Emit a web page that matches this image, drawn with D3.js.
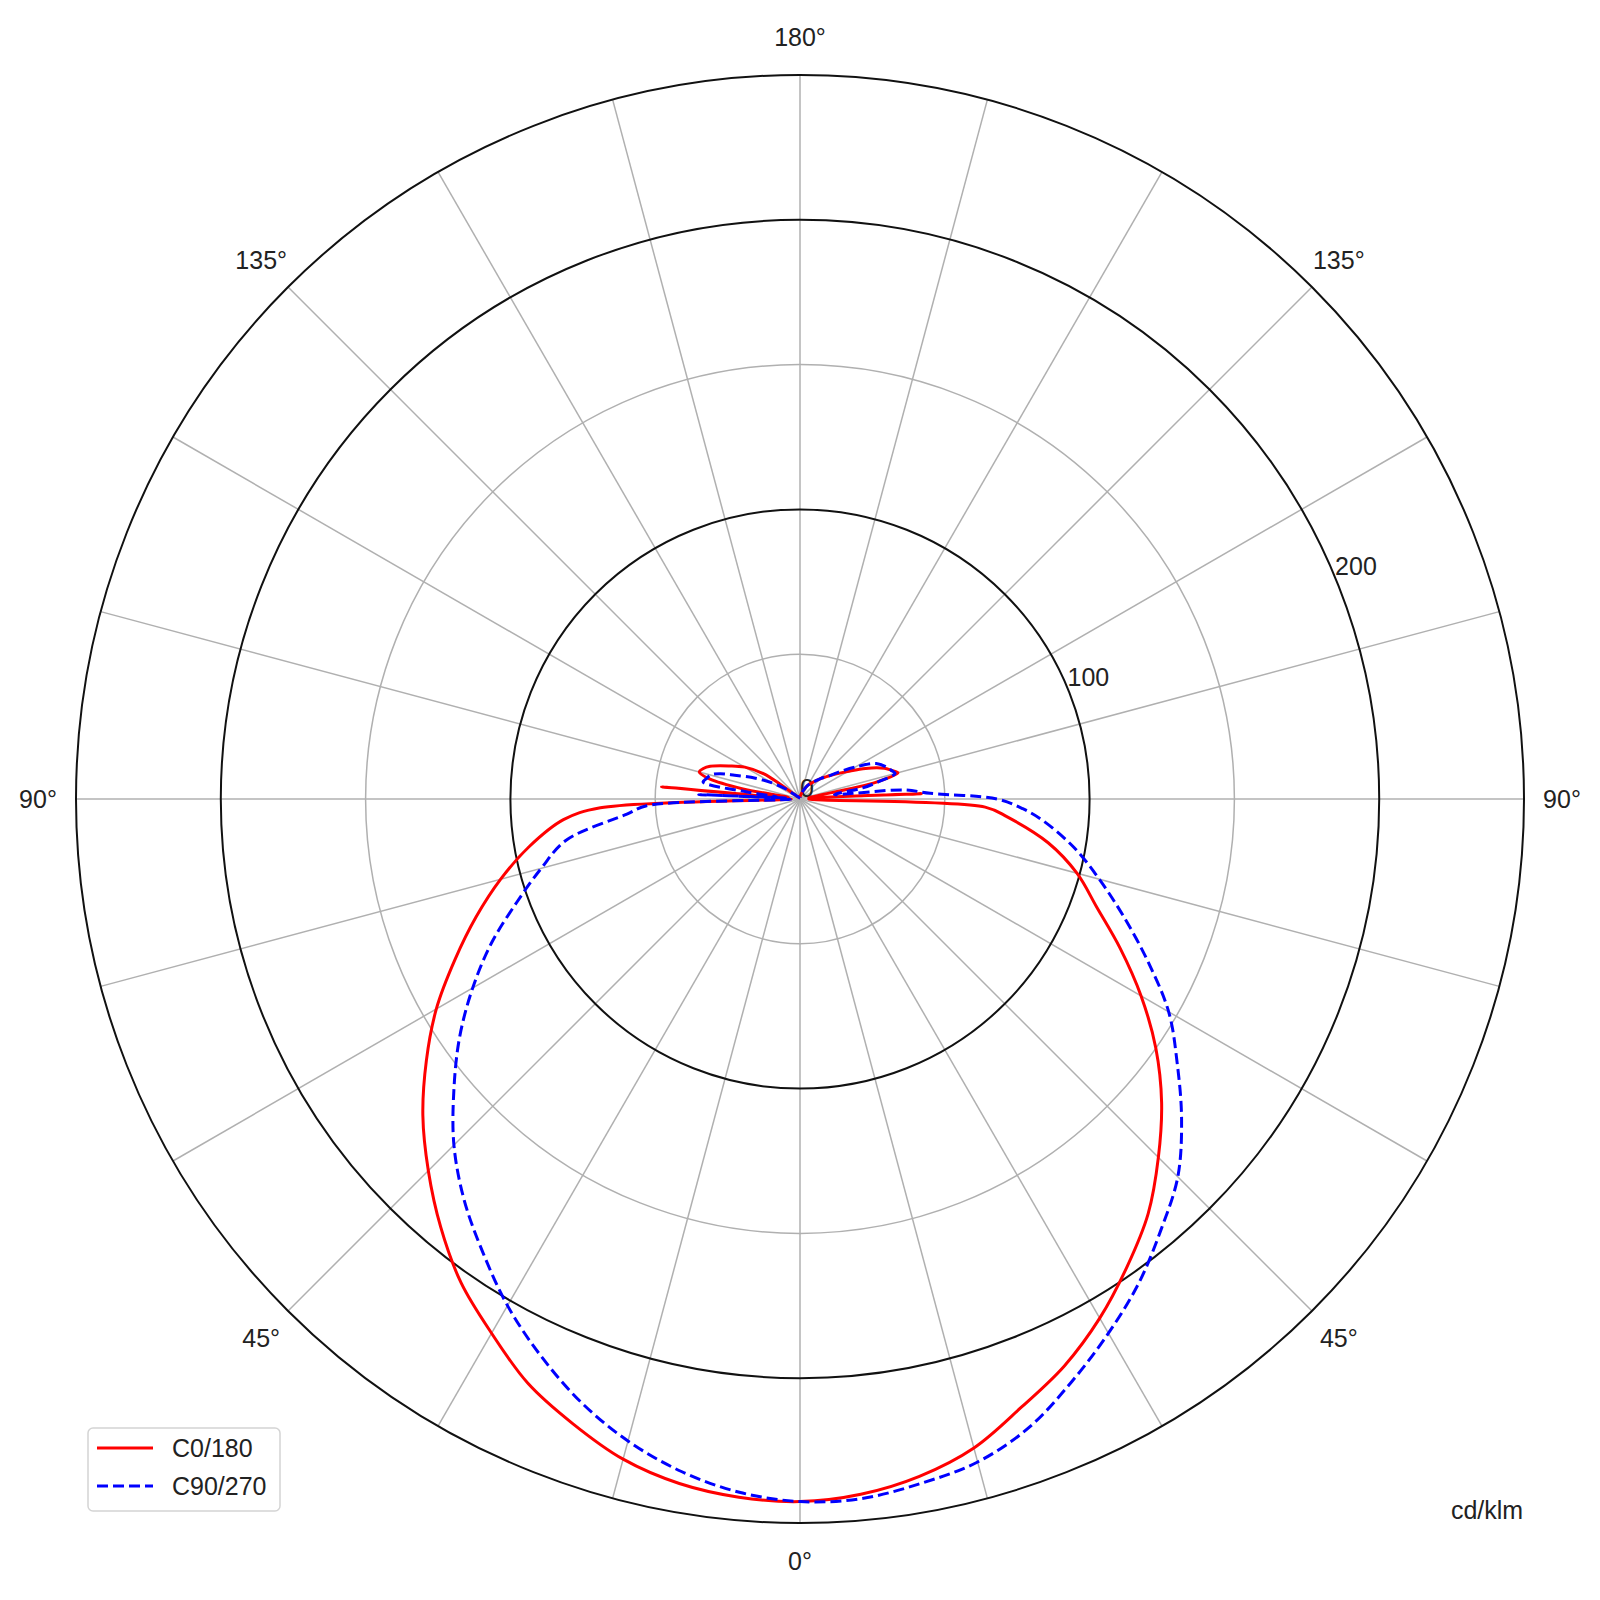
<!DOCTYPE html>
<html>
<head>
<meta charset="utf-8">
<script src="https://cdn.jsdelivr.net/npm/d3@7"></script>
<style>
  body { margin: 0; background: #fff; }
  text { font-family: "Liberation Sans", Arial, sans-serif; fill: #222; }
</style>
</head>
<body>
<div id="chart"></div>
<script>
const width = 1600, height = 1600;
const cx = 800, cy = 799;
const outerR = 724;

// gamma angles (deg), 0 = straight down
const gamma = [0, 5, 10, 15, 20, 25, 30, 35, 40, 45, 50, 55, 60, 65, 70, 75, 80, 85,
    87.5, 90, 92.5, 95, 97.5, 100, 102.5, 105, 107.5, 110, 115, 120, 125, 130, 135, 140, 150, 160, 170, 180];

// cd/klm
const c0 = [242.5, 241, 237.5, 232, 223.5, 216, 207, 197, 187, 175, 163, 150, 136, 122, 109, 99, 87, 72,
    64, 3, 42, 6, 3, 4, 27, 35, 33, 31, 25, 19, 15, 12, 10, 8, 5.5, 3, 1.5, 0.5];
const c180 = [242.6, 242, 240, 236, 229.5, 222.5, 213, 204, 193, 181.5, 170, 157.5, 145, 131.5, 119, 107, 95, 82,
    69, 3, 4, 48, 4, 20, 32, 36, 35, 33, 27, 22, 15, 2, 1, 1, 1, 0.5, 0.5, 0.5];
const c90 = [243, 242.5, 240, 237, 231, 222, 213, 204, 194, 184.5, 172, 159, 147, 132.5, 119, 107, 96, 84,
    77, 68, 45, 36, 12, 22, 28, 34, 33, 32, 29, 22, 16, 12, 10, 8, 5.5, 3, 1.5, 0.5];
const c270 = [242.6, 240.3, 235.8, 229.5, 221.5, 212, 202, 191, 180.5, 169, 156, 143.5, 130.5, 117.5, 104, 92.5, 82, 60,
    53, 3, 35, 8, 18, 34, 33, 32, 29, 24, 17, 11, 6, 2, 1, 1, 0.5, 0.5, 0.5, 0.5];

const seriesNames = ["C0/180", "C90/270"];
const rTicks = [50, 100, 150, 200, 250];
const rLabels = [0, 100, 200];
const angleLabels = [0, 45, 90, 135, 180];

const r = d3.scaleLinear().domain([0, 250]).range([0, outerR]);
const rad = d => d * Math.PI / 180;

const svg = d3.select("#chart")
    .append("svg")
    .attr("width", width)
    .attr("height", height);

svg.append("rect").attr("width", width).attr("height", height).attr("fill", "#fff");

const g = svg.append("g").attr("transform", `translate(${cx},${cy})`);

// spokes every 15 deg
g.append("g")
    .selectAll("line")
    .data(d3.range(0, 360, 15))
    .enter().append("line")
    .attr("x1", 0).attr("y1", 0)
    .attr("x2", d => r(250) * Math.sin(rad(d)))
    .attr("y2", d => r(250) * Math.cos(rad(d)))
    .style("stroke", "#b0b0b0")
    .style("stroke-width", 1.5);

// rings
g.append("g")
    .selectAll("circle")
    .data(rTicks)
    .enter().append("circle")
    .attr("r", d => r(d))
    .style("fill", "none")
    .style("stroke", d => d % 100 === 0 || d === 250 ? "#111" : "#b0b0b0")
    .style("stroke-width", d => d % 100 === 0 || d === 250 ? 2 : 1.5);

// radial labels along 22.5 deg above the right horizontal
g.append("g")
    .selectAll("text")
    .data(rLabels)
    .enter().append("text")
    .attr("x", d => r(d) * Math.cos(rad(22.5)))
    .attr("y", d => -r(d) * Math.sin(rad(22.5)) - 2)
    .style("font-size", "25px")
    .text(d => d);

// angle labels, mirrored on both sides
const angPos = [];
angleLabels.forEach(a => {
    angPos.push({a: a, s: 1});
    if (a !== 0 && a !== 180) angPos.push({a: a, s: -1});
});
g.append("g")
    .selectAll("text")
    .data(angPos)
    .enter().append("text")
    .attr("x", d => d.s * 762 * Math.sin(rad(d.a)))
    .attr("y", d => 762 * Math.cos(rad(d.a)))
    .attr("text-anchor", "middle")
    .attr("dominant-baseline", "central")
    .style("font-size", "25px")
    .text(d => d.a + "°");

// curves: left half (C180 / C270) from top down, then right half (C0 / C90) back up
function joined(left, right) {
    const pts = [];
    for (let i = gamma.length - 1; i >= 0; i--) pts.push([Math.PI + rad(gamma[i]), r(left[i])]);
    for (let i = 1; i < gamma.length; i++) pts.push([Math.PI - rad(gamma[i]), r(right[i])]);
    return pts;
}

const radial = d3.lineRadial()
    .angle(d => d[0])
    .radius(d => d[1])
    .curve(d3.curveCatmullRom.alpha(0.5));

g.append("path")
    .attr("d", radial(joined(c180, c0)))
    .style("fill", "none")
    .style("stroke", "#ff0000")
    .style("stroke-width", 3)
    .style("stroke-linejoin", "round");

g.append("path")
    .attr("d", radial(joined(c270, c90)))
    .style("fill", "none")
    .style("stroke", "#0000ff")
    .style("stroke-width", 3)
    .style("stroke-dasharray", "11,5");

// unit
svg.append("text")
    .attr("x", 1487).attr("y", 1510)
    .attr("text-anchor", "middle")
    .attr("dominant-baseline", "central")
    .style("font-size", "25px")
    .text("cd/klm");

// legend
const legend = svg.append("g");
legend.append("rect")
    .attr("x", 88).attr("y", 1428)
    .attr("width", 192).attr("height", 83)
    .attr("rx", 5)
    .style("fill", "#fff")
    .style("stroke", "#d4d4d4")
    .style("stroke-width", 1.5);

const items = legend.selectAll("g.item")
    .data(seriesNames)
    .enter().append("g")
    .attr("class", "item")
    .attr("transform", (d, i) => `translate(0,${1448 + i * 38})`);

items.append("line")
    .attr("x1", 97).attr("x2", 153)
    .style("stroke", (d, i) => i === 0 ? "#ff0000" : "#0000ff")
    .style("stroke-width", 3)
    .style("stroke-dasharray", (d, i) => i === 0 ? null : "11,5");

items.append("text")
    .attr("x", 172)
    .attr("dominant-baseline", "central")
    .style("font-size", "25px")
    .text(d => d);
</script>
</body>
</html>
